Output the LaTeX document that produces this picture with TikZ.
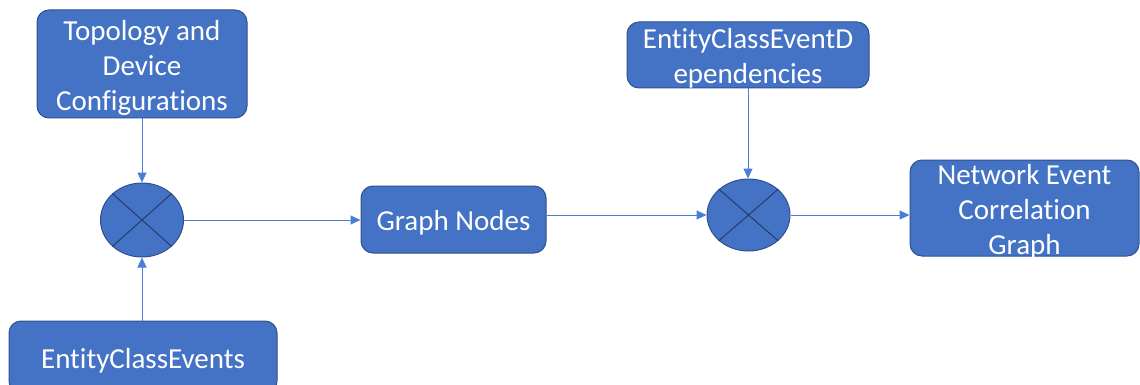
\documentclass[tikz,border=0pt]{standalone}
\usepackage{fontspec}
\setmainfont{Carlito}[Ligatures=NoCommon]
\usetikzlibrary{arrows.meta,shapes.geometric}
\definecolor{boxblue}{HTML}{4472C4}
\definecolor{boxedge}{HTML}{2F528F}
\definecolor{linkblue}{HTML}{4A7DD6}
\definecolor{crossdark}{HTML}{263D6B}
\begin{document}
\begin{tikzpicture}[x=1pt,y=-1pt,
  box/.style={draw=boxedge, line width=1pt, fill=boxblue, rounded corners=12pt, inner sep=0pt},
  boxtext/.style={text=white, align=center, font=\fontsize{29}{35}\selectfont,
    inner sep=0pt, yshift=-3.5pt},
  mix/.style={ellipse, draw=boxedge, fill=boxblue, line width=1pt, inner sep=0pt},
  link/.style={draw=linkblue, line width=1pt, -{Triangle[length=10pt,width=9pt]}},
  cross/.style={draw=crossdark, line width=1pt}]
\clip (0,0) rectangle (1140,385);
\fill[white] (0,0) rectangle (1140,385);

% source boxes
\node[box, minimum width=210pt, minimum height=108pt] (topo) at (142,64) {};
\node[boxtext] (topo-t) at (topo) {Topology and\\Device\\Configurations};
\node[box, minimum width=268pt, minimum height=72pt] (ece) at (143,357) {};
\node[boxtext] (ece-t) at (ece) {EntityClassEvents};
\node[box, minimum width=242pt, minimum height=66pt] (dep) at (748,55) {};
\node[boxtext] (dep-t) at (dep) {EntityClassEventD\\ependencies};

% intermediate and result boxes
\node[box, minimum width=185pt, minimum height=67pt] (gn) at (453.5,219.5) {};
\node[boxtext] (gn-t) at (gn) {Graph Nodes};
\node[box, minimum width=229pt, minimum height=96pt] (net) at (1024.5,208) {};
\node[boxtext] (net-t) at (net) {Network Event\\Correlation\\Graph};

% combining operators
\node[mix, minimum width=83pt, minimum height=74pt] (c1) at (142,220) {};
\node[mix, minimum width=83pt, minimum height=72pt] (c2) at (748.5,215) {};
\foreach \c in {c1,c2}{
  \draw[cross] (\c.north east) -- (\c.south west);
  \draw[cross] (\c.north west) -- (\c.south east);
}

% connectors
\draw[link] (topo.south) -- (c1.north);
\draw[link] (ece.north -| c1.south) -- (c1.south);
\draw[link] (c1.east) -- (c1.east -| gn.west);
\draw[link] (c2.west -| gn.east) -- (c2.west);
\draw[link] (dep.south) -- (dep.south |- c2.north);
\draw[link] (c2.east) -- (c2.east -| net.west);
\end{tikzpicture}
\end{document}
